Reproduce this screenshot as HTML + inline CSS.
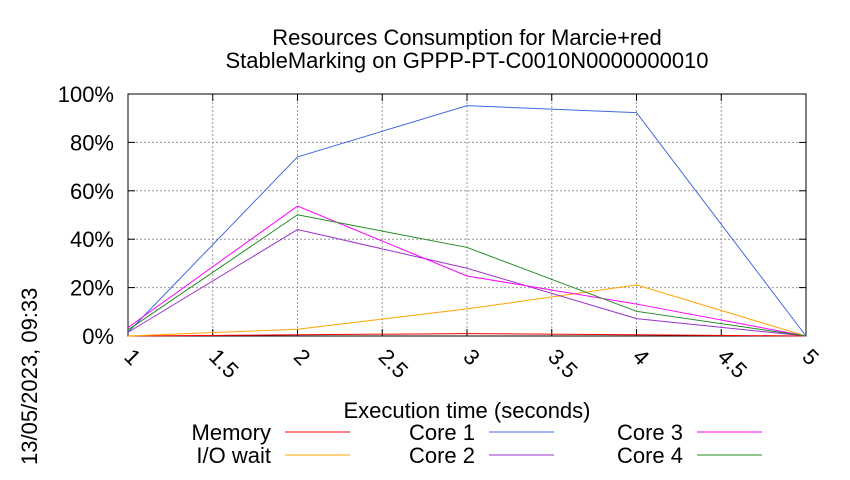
<!DOCTYPE html>
<html><head><meta charset="utf-8"><style>
body{margin:0;background:#fff}
svg text{font-family:"Liberation Sans",sans-serif;fill:#000}
</style></head><body>
<svg id="chart" width="850" height="475" viewBox="0 0 850 475" xmlns="http://www.w3.org/2000/svg">
<text x="467" y="45" font-size="22" text-anchor="middle">Resources Consumption for Marcie+red</text>
<text x="467" y="68" font-size="22" text-anchor="middle">StableMarking on GPPP-PT-C0010N0000000010</text>
<text transform="translate(37,465) rotate(-90)" font-size="22">13/05/2023, 09:33</text>
<text x="467" y="418" font-size="22" text-anchor="middle">Execution time (seconds)</text>
<g id="grid"></g>
<g id="axes"></g>
<g id="series"></g>
<g id="legend"></g>
</svg>
<script>
const xValues=[1,2,3,4,5];
const xTicks=[1,1.5,2,2.5,3,3.5,4,4.5,5];
const yTicks=[0,20,40,60,80,100];
const memory=[0,0.5,1,0.5,0];
const ioWait=[0,2.8,11.2,21.1,0];
const core1=[1.5,74,95.2,92.3,0];
const core2=[1.5,44,28,7.2,0];
const core3=[3.5,53.7,24.8,13.2,0];
const core4=[2.5,50.1,36.6,10.2,0];
const seriesNames=["Memory","I/O wait","Core 1","Core 2","Core 3","Core 4"];
const seriesData=[memory,ioWait,core1,core2,core3,core4];
const seriesColors=["#ff0000","#ffa500","#4169e1","#9932cc","#ff00ff","#228b22"];
const L=128,R=806,T=94,B=336;
const sx=v=>L+(v-1)/4*(R-L);
const sy=v=>B-v/100*(B-T);
const NS="http://www.w3.org/2000/svg";
function mk(tag,attrs,parent,txt){const e=document.createElementNS(NS,tag);for(const k in attrs)e.setAttribute(k,attrs[k]);if(txt!==undefined)e.textContent=txt;parent.appendChild(e);return e;}
const grid=document.getElementById('grid'),axes=document.getElementById('axes'),ser=document.getElementById('series'),leg=document.getElementById('legend');
yTicks.forEach(t=>{const y=sy(t);
 if(t>0&&t<100){const g=mk('line',{x1:L,x2:R,y1:y,y2:y,stroke:'#999','stroke-dasharray':'2,2','stroke-width':1},grid);}
 const tx=mk('text',{x:L-14,y:y+8,'font-size':22,'text-anchor':'end'},axes,t+'%');
 mk('line',{x1:L,x2:L+7,y1:y,y2:y,stroke:'#000'},axes);mk('line',{x1:R,x2:R-7,y1:y,y2:y,stroke:'#000'},axes);
});
xTicks.forEach(t=>{const x=sx(t);
 if(t>1&&t<5){const g=mk('line',{x1:x,x2:x,y1:T,y2:B,stroke:'#999','stroke-dasharray':'2,2','stroke-width':1},grid);}
 const tx=mk('text',{transform:`translate(${x-5},${B+22}) rotate(45)`,'font-size':22},axes,String(t));
 mk('line',{x1:x,x2:x,y1:B,y2:B-7,stroke:'#000'},axes);mk('line',{x1:x,x2:x,y1:T,y2:T+7,stroke:'#000'},axes);
});
const fr=mk('rect',{x:L,y:T,width:R-L,height:B-T,fill:'none',stroke:'#000','stroke-width':1},axes);

seriesData.forEach((d,i)=>{
 const p=mk('polyline',{points:d.map((v,j)=>sx(xValues[j])+','+sy(v)).join(' '),fill:'none',stroke:seriesColors[i],'stroke-width':1},ser);
 
 
});
const legPos=[[271,440],[271,463],[475,440],[475,463],[683,440],[683,463]];
seriesNames.forEach((n,i)=>{const [x,y]=legPos[i];
 const t=mk('text',{x:x,y:y,'font-size':22,'text-anchor':'end'},leg,n);
 const l=mk('line',{x1:x+14,x2:x+79,y1:y-8,y2:y-8,stroke:seriesColors[i]},leg);
});
</script>
</body></html>
